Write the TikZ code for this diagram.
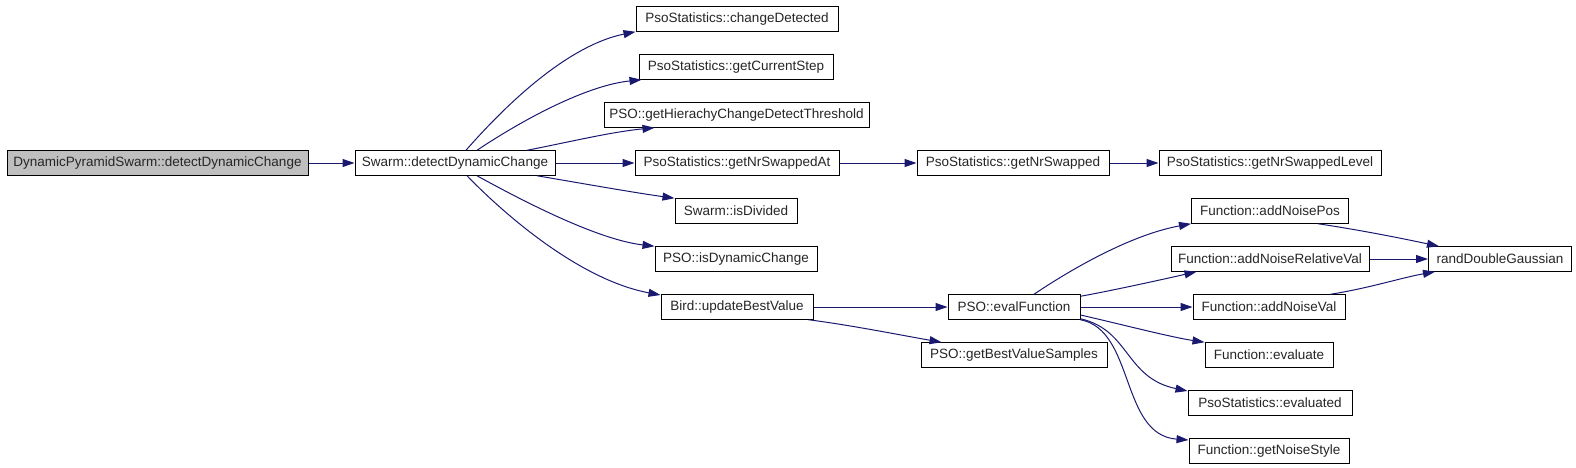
\documentclass[tikz,border=0pt]{standalone}
\usepackage{fontspec}
\setmainfont{Liberation Sans}
\usetikzlibrary{arrows.meta,calc}
\definecolor{edgeblue}{HTML}{191970}
\definecolor{rootgray}{HTML}{BFBFBF}
\tikzset{
  box/.style={draw=black, line width=0.5pt, rectangle, inner sep=0pt, minimum height=12.25pt, fill=white, text=black!85, font=\fontsize{6.75}{8}\selectfont},
  rootbox/.style={box, fill=rootgray},
  e/.style={draw=edgeblue, line width=0.5pt, -{Triangle[length=6pt,width=4pt]}}
}
\begin{document}
\begin{tikzpicture}[x=0.5pt,y=-0.5pt]
\useasboundingbox (0,0) rectangle (1576,467);
% nodes
\node[rootbox, minimum width=150.5pt] (dps) at (157.5,163) {DynamicPyramidSwarm::detectDynamicChange};
\node[box, minimum width=100pt] (swarm) at (455,163) {Swarm::detectDynamicChange};
\node[box, minimum width=101pt] (cd) at (737,19) {PsoStatistics::changeDetected};
\node[box, minimum width=97pt] (gcs) at (736,67) {PsoStatistics::getCurrentStep};
\node[box, minimum width=132.5pt] (ghc) at (736.5,115) {PSO::getHierachyChangeDetectThreshold};
\node[box, minimum width=102pt] (gnsa) at (737,163) {PsoStatistics::getNrSwappedAt};
\node[box, minimum width=61pt] (isd) at (736,211) {Swarm::isDivided};
\node[box, minimum width=81pt] (idc) at (736,259) {PSO::isDynamicChange};
\node[box, minimum width=76pt] (ubv) at (737,307) {Bird::updateBestValue};
\node[box, minimum width=96pt] (gns) at (1013,163) {PsoStatistics::getNrSwapped};
\node[box, minimum width=111pt] (gnsl) at (1270,163) {PsoStatistics::getNrSwappedLevel};
\node[box, minimum width=66pt] (ef) at (1014,307) {PSO::evalFunction};
\node[box, minimum width=93pt] (gbvs) at (1014,355) {PSO::getBestValueSamples};
\node[box, minimum width=78.5pt] (anp) at (1270,211) {Function::addNoisePos};
\node[box, minimum width=99pt] (anrv) at (1270,259) {Function::addNoiseRelativeVal};
\node[box, minimum width=76pt] (anv) at (1269,307) {Function::addNoiseVal};
\node[box, minimum width=64pt] (ev) at (1269,355) {Function::evaluate};
\node[box, minimum width=82pt] (evd) at (1270,403) {PsoStatistics::evaluated};
\node[box, minimum width=80pt] (gnst) at (1269,451) {Function::getNoiseStyle};
\node[box, minimum width=71.5pt] (rdg) at (1500,259) {randDoubleGaussian};
% edges
\draw[e] (dps) -- (swarm);
\draw[e] ($(swarm.north)+(11,0)$) .. controls (510,100) and (570,45) .. (cd.south west);
\draw[e] ($(swarm.north)+(22,0)$) .. controls (530,115) and (590,85) .. ($(gcs.south west)+(3,0)$);
\draw[e] ($(swarm.north)+(72,0)$) .. controls (565,143) and (610,132) .. ($(ghc.south west)+(51,0)$);
\draw[e] (swarm) -- (gnsa);
\draw[e] ($(swarm.south)+(82,0)$) .. controls (580,183) and (630,192) .. (isd.north west);
\draw[e] ($(swarm.south)+(22,0)$) .. controls (530,205) and (600,240) .. (idc.north west);
\draw[e] ($(swarm.south)+(12,0)$) .. controls (505,215) and (580,280) .. ($(ubv.west)+(0,-12)$);
\draw[e] (gnsa) -- (gns);
\draw[e] (gns) -- (gnsl);
\draw[e] (ubv) -- (ef);
\draw[e] ($(ubv.south east)+(-5,0)$) .. controls (850,325) and (900,335) .. ($(gbvs.north west)+(21,0)$);
\draw[e] ($(ef.north)+(20,0)$) .. controls (1070,270) and (1130,235) .. (anp.south west);
\draw[e] ($(ef.north east)+(0,2)$) .. controls (1110,291) and (1160,280) .. ($(anrv.south west)+(26,0)$);
\draw[e] (ef) -- (anv);
\draw[e] ($(ef.east)+(0,8)$) .. controls (1120,324) and (1170,337) .. (ev.north west);
\draw[e] ($(ef.south east)+(0,-1)$) .. controls (1130,330) and (1125,378) .. ($(evd.west)+(0,-12)$);
\draw[e] (ef.south east) .. controls (1135,330) and (1120,435) .. ($(gnst.west)+(0,-11)$);
\draw[e] ($(anp.south east)+(-31,0)$) .. controls (1360,230) and (1400,238) .. ($(rdg.north west)+(11,0)$);
\draw[e] (anrv) -- (rdg);
\draw[e] ($(anv.north east)+(-15,0)$) .. controls (1370,288) and (1400,278) .. ($(rdg.south west)+(7,0)$);
\end{tikzpicture}
\end{document}
